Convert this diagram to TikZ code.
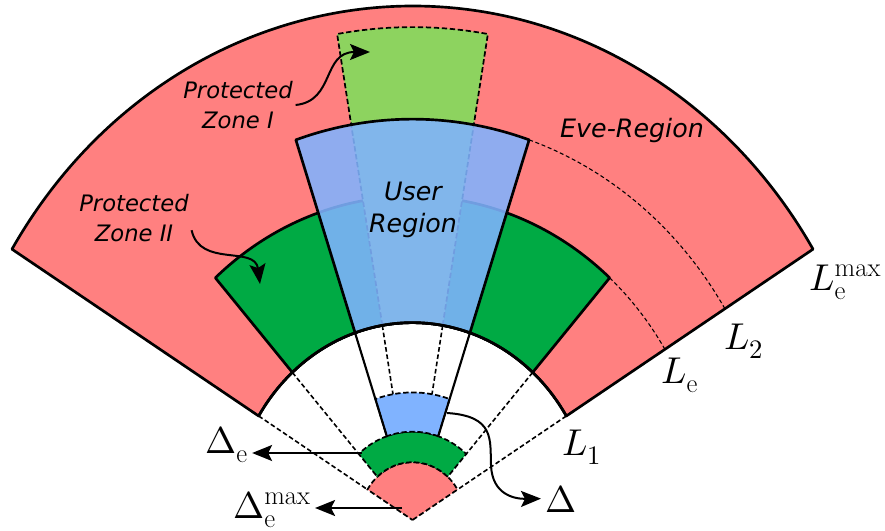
\documentclass[tikz,border=0pt]{standalone}
\usepackage{fontspec}
\usepackage{unicode-math}
\setmathfont{Latin Modern Math}
\newfontfamily\labelfont{DejaVu Sans}
\DeclareMathSizes{28}{28}{20}{15}
\usetikzlibrary{arrows.meta}

\definecolor{evered}{HTML}{FF8080}
\definecolor{zonegreen}{HTML}{00AA44}
\definecolor{lightgreen}{HTML}{8DD35F}
\definecolor{userblue}{HTML}{80B3FF}

\begin{document}
\begin{tikzpicture}[x=0.75pt,y=-0.75pt,
    region/.style={draw=black,line width=2pt,line join=round},
    proj/.style={draw=black,line width=1.3pt,dash pattern=on 4pt off 2pt},
    guide/.style={black,line width=1.2pt,dash pattern=on 3.5pt off 2pt},
    thinguide/.style={black,line width=0.8pt,dash pattern=on 3pt off 2pt},
    edge/.style={black,line width=1.6pt},
    pointer/.style={line width=1.5pt,-{Stealth[length=15pt,width=12pt,inset=3pt]}},
    zonetxt/.style={font=\labelfont\itshape\fontsize{17}{22}\selectfont,align=center,inner sep=2pt},
    bigtxt/.style={font=\labelfont\itshape\fontsize{19}{24}\selectfont,align=center,inner sep=2pt},
    mathtxt/.style={font=\fontsize{28}{32}\selectfont,inner sep=3pt,anchor=base west}]

\useasboundingbox (0,0) rectangle (885,531);

\begin{scope}[shift={(412.5,520)},yscale=-1.0905]
    % Eve region
    \filldraw[region,fill=evered] (31.8:181) arc[start angle=31.8,end angle=148.2,radius=181]
        -- (148.2:471.3) arc[start angle=148.2,end angle=31.8,radius=471.3] -- cycle;
    % protected zone II
    \filldraw[region,fill=zonegreen] (48.4:181) arc[start angle=48.4,end angle=131.6,radius=181]
        -- (131.6:297) arc[start angle=131.6,end angle=48.4,radius=297] -- cycle;
    % protected zone I
    \fill[lightgreen] (80.4:181) arc[start angle=80.4,end angle=99.6,radius=181]
        -- (99.6:452) arc[start angle=99.6,end angle=80.4,radius=452] -- cycle;
    \draw[proj] (80.4:181) -- (80.4:452) arc[start angle=80.4,end angle=99.6,radius=452] -- (99.6:181);
    % user region
    \filldraw[region,fill=userblue,fill opacity=0.88] (71.5:181) arc[start angle=71.5,end angle=108.5,radius=181]
        -- (108.5:367.6) arc[start angle=108.5,end angle=71.5,radius=367.6] -- cycle;
    \draw[region] (31.8:181) arc[start angle=31.8,end angle=148.2,radius=181];

    % range marks
    \draw[thinguide] (71.5:367.6) arc[start angle=71.5,end angle=31.8,radius=367.6];
    \draw[thinguide] (48.4:297) arc[start angle=48.4,end angle=31.8,radius=297];

    % projections
    \filldraw[proj,fill=evered] (0,0) -- (31.8:53) arc[start angle=31.8,end angle=148.2,radius=53] -- cycle;
    \filldraw[proj,fill=zonegreen] (48.4:53) arc[start angle=48.4,end angle=131.6,radius=53]
        -- (131.6:81) arc[start angle=131.6,end angle=48.4,radius=81] -- cycle;
    \filldraw[proj,fill=userblue] (71.5:81) arc[start angle=71.5,end angle=108.5,radius=81]
        -- (108.5:117) arc[start angle=108.5,end angle=71.5,radius=117] -- cycle;

    \draw[guide] (31.8:181) -- (31.8:53);
    \draw[guide] (148.2:181) -- (148.2:53);
    \draw[guide] (48.4:181) -- (48.4:81);
    \draw[guide] (131.6:181) -- (131.6:81);
    \draw[guide] (80.4:181) -- (80.4:117);
    \draw[guide] (99.6:181) -- (99.6:117);
    \draw[edge] (71.5:181) -- (71.5:81);
    \draw[edge] (108.5:181) -- (108.5:81);
\end{scope}

% arrow targets
\coordinate (zIin) at (370,52);
\coordinate (zIIin) at (260,284);
\coordinate (uDelta) at (447,413);
\coordinate (gDelta) at (362,453);
\coordinate (pDelta) at (402,508);

% labels
\node[zonetxt] (zoneI) at (238,105) {Protected\\Zone I};
\node[zonetxt] (zoneII) at (134,218) {Protected\\Zone II};
\node[bigtxt] (user) at (413,210) {User\\Region};
\node[bigtxt] (eve) at (632,131) {Eve-Region};

\node[mathtxt] (lblL1) at (558,455) {$L_1$};
\node[mathtxt] (lblLe) at (657,383) {$L_{\mathrm{e}}$};
\node[mathtxt] (lblL2) at (720,349) {$L_2$};
\node[mathtxt] (lblLmax) at (805,290) {$L_{\mathrm{e}}^{\max}$};
\node[mathtxt] (lblDe) at (201,453) {$\Delta_{\mathrm{e}}$};
\node[mathtxt] (lblDmax) at (229,518) {$\Delta_{\mathrm{e}}^{\max}$};
\node[mathtxt] (lblD) at (541,512) {$\Delta$};

% arrows
\draw[pointer] (zoneI.east) .. controls (335,101) and (322,52) .. (zIin);
\draw[pointer] (zoneII.-12) .. controls (200,268) and (255,245) .. (zIIin);
\draw[pointer] (uDelta) .. controls (495,416) and (490,440) .. (491,465)
    .. controls (492,495) and (515,499) .. (lblD.west);
\draw[pointer] (gDelta) -- (gDelta -| lblDe.east);
\draw[pointer] (pDelta) -- (pDelta -| lblDmax.east);
\end{tikzpicture}
\end{document}
